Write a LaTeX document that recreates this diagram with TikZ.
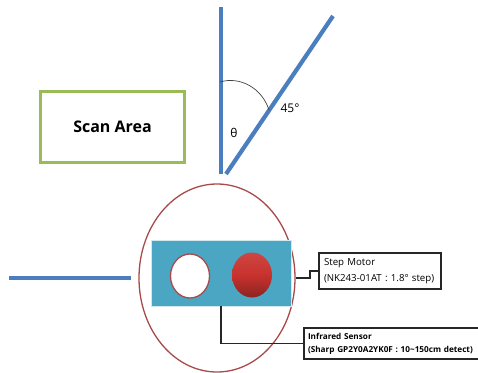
\documentclass[tikz,border=0pt]{standalone}
\usepackage{fontspec}
\setmainfont{Open Sans}
\usetikzlibrary{shapes.geometric}
\definecolor{rayblue}{HTML}{4A7EBE}
\definecolor{areagreen}{HTML}{9BBB59}
\definecolor{lensred}{HTML}{A84A4A}
\definecolor{boardteal}{HTML}{4BA6C4}
\definecolor{ledred}{HTML}{C8322E}

\begin{document}
\begin{tikzpicture}[x=1pt, y=-1pt, font=\fontsize{12}{14}\selectfont,
  ray/.style={draw=rayblue, line width=4.2pt},
  area/.style={draw=areagreen, line width=2.6pt, minimum width=144pt, minimum height=71pt, inner sep=0pt},
  lead/.style={draw=black!85, line width=1.5pt},
  tagbox/.style={draw=black!85, line width=1.6pt, align=left, inner sep=0pt, font=\fontsize{9.7}{15.5}\selectfont}]
  \useasboundingbox (0,0) rectangle (478,372);

  % ---- scan rays and angle ----
  \coordinate (va) at (221,7);
  \coordinate (vb) at (221,174);
  \coordinate (da) at (226,174);
  \coordinate (db) at (333,16);
  \coordinate (ga) at (9,278);
  \coordinate (gb) at (131,278);
  \draw[ray] (va) -- (vb);
  \draw[ray] (da) -- (db);
  \draw[ray] (ga) -- (gb);
  \coordinate (aa) at (220,82);
  \coordinate (ab) at (269,110);
  \draw[black!75, line width=0.7pt] (aa) .. controls (240,76) and (262,88) .. (ab);
  \node (deg) at (290,108) {45°};
  \node (theta) at (234,133) {θ};

  % ---- scan area ----
  \node[area, font=\bfseries\fontsize{16}{18}\selectfont] (scan) at (112.5,127) {\raisebox{-2pt}{Scan Area}};

  % ---- sensor head ----
  \node[draw=lensred, line width=1.3pt, ellipse, minimum width=156pt, minimum height=188pt, inner sep=0pt] (lens) at (217,278) {};
  \node[draw=boardteal!25, line width=0.8pt, fill=boardteal, minimum width=140pt, minimum height=66pt, inner sep=0pt] (board) at (221,273) {};
  \node[draw=lensred, line width=1.3pt, fill=white, ellipse, minimum width=39pt, minimum height=44pt, inner sep=0pt] (rx) at (190,276) {};
  \node[ellipse, top color=ledred!90!white, bottom color=ledred!70!black, middle color=ledred, minimum width=40pt, minimum height=45pt, inner sep=0pt] (tx) at (252,275) {};

  % ---- labels ----
  \node[tagbox, minimum width=122pt, minimum height=36pt, text width=112pt] (motor) at (380,271)
    {Step Motor\\(NK243-01AT : 1.8° step)};
  \node[tagbox, minimum width=175pt, minimum height=31pt, text width=167pt, font=\fontsize{8.2}{13}\selectfont\bfseries] (sensor) at (391.5,343.5)
    {Infrared Sensor\\(Sharp GP2Y0A2YK0F : 10\textasciitilde150cm detect)};

  \draw[lead] (lens.east) -- (310,278) -- (310,271) -- (motor.west);
  \draw[lead] (board.south) |- (sensor.west);

\end{tikzpicture}
\end{document}
